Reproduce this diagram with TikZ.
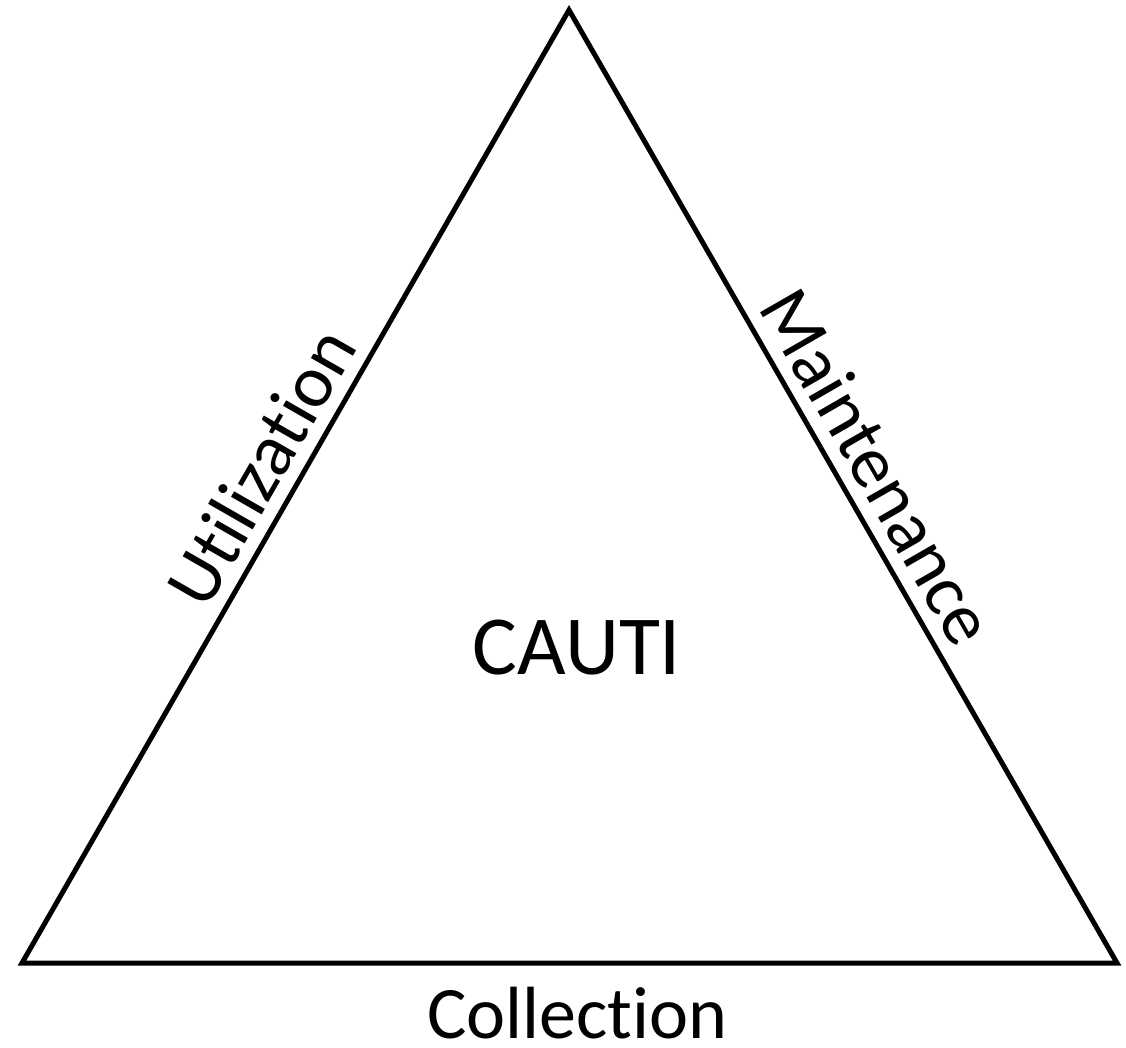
\documentclass[tikz,border=0pt]{standalone}
\usepackage{fontspec}
\setmainfont{Carlito}[Ligatures=NoCommon]
\usetikzlibrary{positioning}
\tikzstyle{side} = [draw,line width=5pt]
\tikzstyle{lbl} = [inner sep=0pt,font=\fontsize{74}{80}\selectfont]

\begin{document}
\begin{tikzpicture}[x=1pt,y=-1pt]
   \useasboundingbox (0,0) rectangle (1126,1047);
   \coordinate (top) at (569,10);
   \coordinate (left) at (22,963);
   \coordinate (right) at (1117,963);
   \node[font=\fontsize{84}{90}\selectfont] (cauti) at (577,648) {CAUTI};

   \path[side] (left) -- node[lbl,sloped,above=12pt] (util) {Utilization}
      (top) -- node[lbl,sloped,above=12pt] (maint) {Maintenance}
      (right) -- node[lbl,below=22pt,xshift=8pt] (coll) {Collection} (left) -- cycle;

\end{tikzpicture}
\end{document}
